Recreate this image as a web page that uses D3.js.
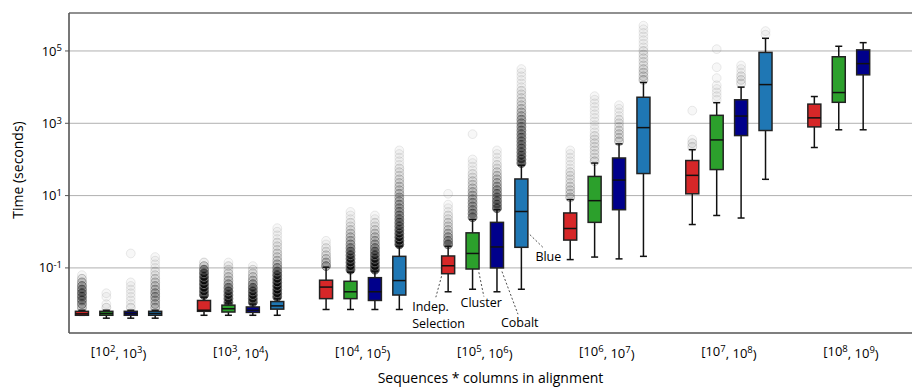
<!DOCTYPE html>
<html lang="en">

<head>
    <meta charset="UTF-8">
    <title>Time by alignment size</title>
    <style>
        body {
            margin: 0;
            overflow: hidden;
            background: #fff;
        }

        svg {
            display: block;
        }

        text {
            font-family: "Open Sans", "Noto Sans", sans-serif;
            fill: #000;
        }
    </style>
</head>

<body>
    <svg></svg>

    <script src="https://d3js.org/d3.v7.min.js"></script>
    <script>
        const width = 912;
        const height = 388;

        // size bins: [10^a, 10^(a+1))
        const groupExp = [2, 3, 4, 5, 6, 7, 8];
        const methods = ["Indep. Selection", "Cluster", "Cobalt", "Blue"];
        const colors = ["#d62728", "#2ca02c", "#00008b", "#1f77b4"];

        // one entry per box, group by group (last group has no Blue box)
        const boxGroup = [0, 0, 0, 0, 1, 1, 1, 1, 2, 2, 2, 2, 3, 3, 3, 3, 4, 4, 4, 4, 5, 5, 5, 5, 6, 6, 6];
        const boxMethod = [0, 1, 2, 3, 0, 1, 2, 3, 0, 1, 2, 3, 0, 1, 2, 3, 0, 1, 2, 3, 0, 1, 2, 3, 0, 1, 2];

        // box stats, log10(seconds)
        const whiskLo = [-2.31, -2.39, -2.39, -2.39, -2.31, -2.31, -2.31, -2.31, -2.15, -2.15, -2.15, -2.15,
            -1.66, -1.59, -1.66, -1.59, -0.77, -0.70, -0.75, -0.68, 0.20, 0.45, 0.38, 1.45, 2.33, 2.82, 2.82];
        const q1 = [-2.31, -2.31, -2.31, -2.31, -2.20, -2.22, -2.23, -2.14, -1.85, -1.85, -1.90, -1.75,
            -1.16, -1.03, -1.00, -0.43, -0.23, 0.26, 0.61, 1.61, 1.05, 1.72, 2.66, 2.80, 2.90, 3.58, 4.34];
        const median = [-2.27, -2.26, -2.26, -2.26, -2.17, -2.13, -2.17, -2.05, -1.53, -1.66, -1.66, -1.35,
            -0.94, -0.60, -0.42, 0.56, 0.09, 0.86, 1.43, 2.88, 1.56, 2.54, 3.20, 4.07, 3.15, 3.85, 4.65];
        const q3 = [-2.20, -2.20, -2.20, -2.20, -1.90, -2.03, -2.08, -1.93, -1.34, -1.37, -1.27, -0.68,
            -0.67, -0.03, 0.26, 1.46, 0.52, 1.53, 2.04, 3.72, 1.97, 3.22, 3.65, 4.96, 3.53, 4.84, 5.03];
        const whiskHi = [-2.17, -2.17, -2.17, -2.17, -1.81, -1.97, -2.00, -1.85, -0.98, -1.12, -1.09, -0.40,
            -0.40, 0.34, 0.61, 1.84, 0.89, 1.90, 2.43, 4.13, 2.27, 3.57, 4.00, 5.35, 3.74, 5.13, 5.23];

        // outliers as a histogram: first bin (log10 s) and point counts per 0.1-decade bin
        const flierLo = [-2.1, -2.1, -2.1, -2.1, -1.75, -1.95, -1.95, -1.8, -0.95, -1.05, -1.05, -0.35,
            -0.35, 0.4, 0.65, 1.9, 0.95, 1.95, 2.5, 4.2, 2.35, 3.65, 4.1, 5.45, 0, 0, 0];
        const flierCounts = [
            [6, 10, 15, 18, 18, 15, 10, 6, 3, 1],
            [2, 1, 0, 1, 1],
            [2, 1, 1, 1, 1, 1, 1, 1, 0, 0, 0, 0, 0, 0, 0, 1],
            [6, 6, 6, 8, 8, 6, 5, 4, 3, 2, 2, 1, 1, 1, 1],
            [40, 45, 45, 45, 45, 40, 30, 15, 5, 2],
            [40, 40, 35, 25, 15, 8, 5, 4, 3, 2, 2, 1],
            [40, 45, 40, 30, 20, 10, 6, 4, 3, 2, 1],
            [45, 50, 50, 50, 45, 40, 30, 20, 10, 6, 4, 3, 3, 2, 2, 2, 1, 1, 1, 1],
            [10, 6, 4, 3, 2, 2, 1, 1],
            [45, 45, 40, 35, 25, 18, 12, 8, 6, 5, 4, 3, 2, 2, 1, 1, 1],
            [45, 45, 40, 35, 25, 18, 12, 8, 6, 5, 4, 3, 2, 2, 1, 1],
            [50, 45, 40, 30, 25, 20, 18, 15, 12, 10, 9, 8, 7, 6, 5, 4, 4, 3, 3, 2, 2, 2, 1, 1, 1, 1, 1],
            [20, 12, 8, 6, 4, 3, 3, 2, 2, 1, 1, 1, 0, 0, 1],
            [15, 12, 10, 9, 8, 7, 6, 5, 4, 3, 3, 2, 2, 1, 1, 1, 1, 0, 0, 0, 0, 0, 0, 1],
            [25, 20, 16, 14, 12, 10, 8, 6, 5, 4, 3, 2, 2, 1, 1, 1, 1],
            [30, 25, 20, 18, 16, 15, 14, 13, 12, 11, 10, 9, 8, 6, 5, 4, 3, 3, 2, 2, 2, 1, 1, 1, 1, 1, 1],
            [4, 3, 3, 3, 2, 2, 2, 2, 1, 1, 1, 1, 1, 1],
            [3, 2, 2, 2, 2, 2, 2, 2, 1, 1, 1, 1, 1, 1, 1, 1, 1, 1, 1],
            [4, 3, 3, 3, 2, 2, 2, 1, 1, 1, 1],
            [4, 3, 3, 3, 2, 2, 2, 2, 2, 1, 1, 1, 1, 1, 1, 1],
            [2, 2, 1, 0, 0, 0, 0, 0, 0, 0, 1],
            [1, 1, 1, 1, 1, 0, 1, 0, 0, 1, 0, 0, 0, 0, 1],
            [2, 2, 2, 1, 1, 1],
            [1, 1],
            [], [], []
        ];

        const yTicks = [-1, 1, 3, 5];

        const margin = { top: 13, right: 0, bottom: 55, left: 69 };
        const plotW = width - margin.left - margin.right;
        const plotH = height - margin.top - margin.bottom;

        const svg = d3.select("svg")
            .attr("width", width)
            .attr("height", height);

        // slot position: 5 slots per group, 4 used
        const pos = i => boxGroup[i] * 5 + boxMethod[i];
        const x = d3.scaleLinear().domain([-0.53, 34.0]).range([0, plotW]);
        const y = d3.scaleLog().domain([Math.pow(10, -2.8), Math.pow(10, 6.05)]).range([plotH, 0]);
        const Y = v => y(Math.pow(10, v));

        const g = svg.append("g").attr("transform", `translate(${margin.left},${margin.top})`);

        // grid
        g.append("g")
            .selectAll("line")
            .data(yTicks)
            .join("line")
            .attr("x1", 0)
            .attr("x2", plotW)
            .attr("y1", d => Y(d))
            .attr("y2", d => Y(d))
            .attr("stroke", "#b0b0b0")
            .attr("stroke-width", 1);

        const boxW = 13;
        const capW = 7;
        const idx = d3.range(boxGroup.length);

        // outliers, faint markers stacked
        const fl = [];
        idx.forEach(i => {
            flierCounts[i].forEach((n, j) => {
                if (n > 0) fl.push({ i, v: flierLo[i] + j * 0.1, n });
            });
        });
        g.append("g")
            .selectAll("circle")
            .data(fl)
            .join("circle")
            .attr("cx", d => x(pos(d.i)))
            .attr("cy", d => Y(d.v))
            .attr("r", 4.4)
            .attr("fill", "#000")
            .attr("fill-opacity", d => 1 - Math.pow(0.97, d.n))
            .attr("stroke", "#666")
            .attr("stroke-width", 1)
            .attr("stroke-opacity", d => 1 - Math.pow(0.87, d.n));

        const box = g.append("g")
            .selectAll("g")
            .data(idx)
            .join("g")
            .attr("transform", i => `translate(${x(pos(i))},0)`);

        // whiskers
        box.append("line")
            .attr("y1", i => Y(whiskLo[i]))
            .attr("y2", i => Y(q1[i]))
            .attr("stroke", "#111").attr("stroke-width", 1.5);
        box.append("line")
            .attr("y1", i => Y(q3[i]))
            .attr("y2", i => Y(whiskHi[i]))
            .attr("stroke", "#111").attr("stroke-width", 1.5);
        box.append("line")
            .attr("x1", -capW / 2).attr("x2", capW / 2)
            .attr("y1", i => Y(whiskLo[i])).attr("y2", i => Y(whiskLo[i]))
            .attr("stroke", "#111").attr("stroke-width", 1.5);
        box.append("line")
            .attr("x1", -capW / 2).attr("x2", capW / 2)
            .attr("y1", i => Y(whiskHi[i])).attr("y2", i => Y(whiskHi[i]))
            .attr("stroke", "#111").attr("stroke-width", 1.5);

        // boxes
        box.append("rect")
            .attr("x", -boxW / 2)
            .attr("width", boxW)
            .attr("y", i => Y(q3[i]))
            .attr("height", i => Y(q1[i]) - Y(q3[i]))
            .attr("fill", i => colors[boxMethod[i]])
            .attr("stroke", "#222")
            .attr("stroke-width", 1.5);
        box.append("line")
            .attr("x1", -boxW / 2).attr("x2", boxW / 2)
            .attr("y1", i => Y(median[i])).attr("y2", i => Y(median[i]))
            .attr("stroke", "#111").attr("stroke-width", 1.5);

        // spines
        g.append("line").attr("x1", 0).attr("x2", plotW).attr("y1", 0).attr("y2", 0)
            .attr("stroke", "#222").attr("stroke-width", 1.2);
        g.append("line").attr("x1", 0).attr("x2", 0).attr("y1", 0).attr("y2", plotH)
            .attr("stroke", "#555").attr("stroke-width", 1.6);
        g.append("line").attr("x1", 0).attr("x2", plotW).attr("y1", plotH).attr("y2", plotH)
            .attr("stroke", "#555").attr("stroke-width", 1.6);

        // y ticks
        const yt = g.append("g")
            .selectAll("g")
            .data(yTicks)
            .join("g")
            .attr("transform", d => `translate(0,${Y(d)})`);
        yt.append("line").attr("x1", -4).attr("x2", 0).attr("stroke", "#555").attr("stroke-width", 1);
        const ytxt = yt.append("text")
            .attr("x", -7)
            .attr("dy", "0.35em")
            .attr("text-anchor", "end")
            .style("font-size", "13px");
        ytxt.append("tspan").text("10");
        ytxt.append("tspan").attr("dy", "-0.45em").style("font-size", "9.5px").text(d => d);

        // x tick labels
        const xt = g.append("g")
            .selectAll("text")
            .data(groupExp)
            .join("text")
            .attr("x", (d, gi) => x(gi * 5 + 1.5))
            .attr("y", plotH + 23)
            .attr("text-anchor", "middle")
            .style("font-size", "13px");
        xt.append("tspan").text("[10");
        xt.append("tspan").attr("dy", "-0.45em").style("font-size", "9.5px").text(d => d);
        xt.append("tspan").attr("dy", "0.45em").text(", 10");
        xt.append("tspan").attr("dy", "-0.45em").style("font-size", "9.5px").text(d => d + 1);
        xt.append("tspan").attr("dy", "0.45em").text(")");

        // axis titles
        svg.append("text")
            .attr("transform", `translate(23,${margin.top + plotH / 2 - 3}) rotate(-90)`)
            .attr("text-anchor", "middle")
            .style("font-size", "14px")
            .text("Time (seconds)");
        svg.append("text")
            .attr("x", margin.left + plotW / 2)
            .attr("y", 383)
            .attr("text-anchor", "middle")
            .style("font-size", "14px")
            .text("Sequences * columns in alignment");

        // method labels on the [10^5, 10^6) group, dashed leaders
        const notes = [
            { i: 12, lines: ["Indep.", "Selection"], from: [-6.6, -1.23], to: [-12.3, -1.81], tx: -36, ty: [-2.2, -2.67] },
            { i: 13, lines: ["Cluster"], from: [6.3, -1.12], to: [11.3, -1.79], tx: -12, ty: [-2.09] },
            { i: 14, lines: ["Cobalt"], from: [5, -1.1], to: [21, -2.28], tx: 4, ty: [-2.64] },
            { i: 15, lines: ["Blue"], from: [8.5, -0.08], to: [21.5, -0.43], tx: 14, ty: [-0.82] }
        ];
        notes.forEach(n => {
            const cx = x(pos(n.i));
            g.append("line")
                .attr("x1", cx + n.from[0]).attr("y1", Y(n.from[1]))
                .attr("x2", cx + n.to[0]).attr("y2", Y(n.to[1]))
                .attr("stroke", "#222")
                .attr("stroke-width", 0.8)
                .attr("stroke-dasharray", "2,2");
            n.lines.forEach((t, k) => {
                g.append("text")
                    .attr("x", cx + n.tx)
                    .attr("y", Y(n.ty[k]))
                    .style("font-size", "12.5px")
                    .text(t);
            });
        });
    </script>
</body>

</html>
